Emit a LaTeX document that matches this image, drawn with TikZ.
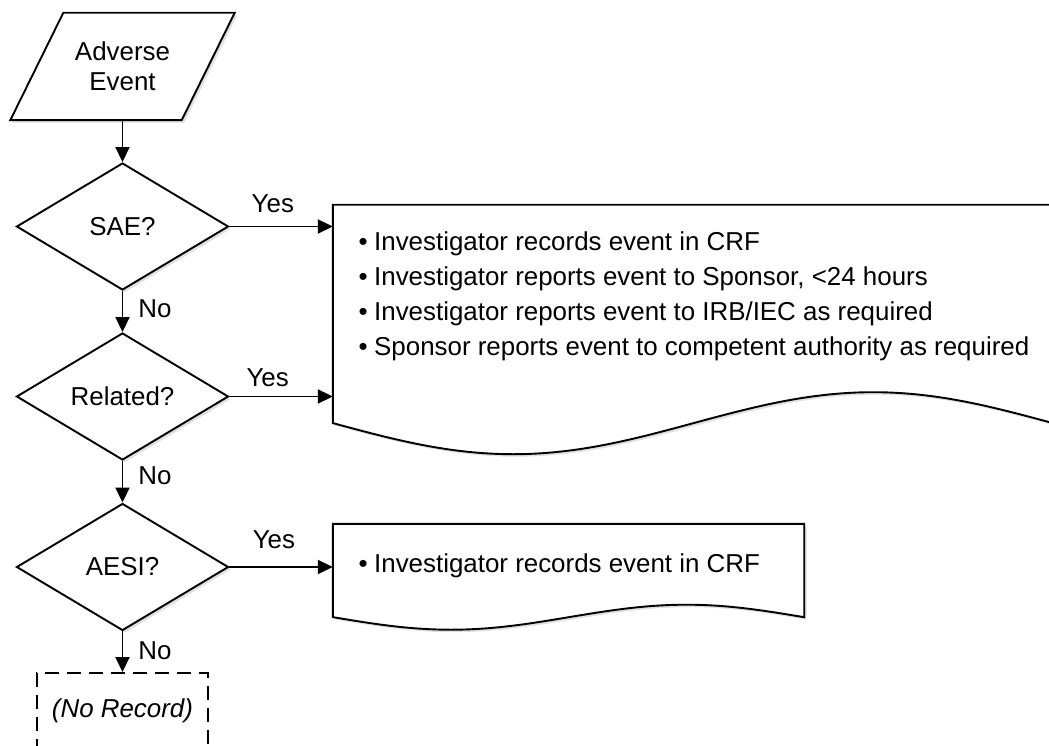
\documentclass[tikz,border=0pt]{standalone}
\usepackage{fontspec}
\setmainfont{Liberation Sans}
\usetikzlibrary{shapes.geometric,arrows.meta,shadows}
\begin{document}
\begin{tikzpicture}[x=1pt,y=-1pt,
  base/.style={font=\fontsize{25.9}{35}\selectfont},
  lw/.style={line width=1.9pt},
  shad/.style={drop shadow={shadow xshift=2.5pt,shadow yshift=-2.5pt,fill=black!12,opacity=1}},
  decision/.style={diamond, draw, lw, fill=white, shad, minimum width=212pt, minimum height=127pt, inner sep=0pt, aspect=1.67, base},
  frame/.style={rectangle, inner sep=0pt, draw=none},
  arr/.style={lw, -{Triangle[length=15pt,width=14pt]}},
  yeslbl/.style={anchor=south, inner sep=0pt, base},
  nolbl/.style={anchor=west, inner sep=0pt, base, xshift=15pt},
  txt/.style={inner sep=0pt, base, align=left}
]
\useasboundingbox (0,0) rectangle (1049,746);
\clip (0,0) rectangle (1049,746);

% Adverse Event (parallelogram)
\node[frame, minimum width=171pt, minimum height=107pt] (ae) at (122.5,66.5) {};
\draw[lw, fill=white, shad] ([xshift=26.5pt]ae.north west) -- ([xshift=26.5pt]ae.north east)
  -- ([xshift=-26.5pt]ae.south east) -- ([xshift=-26.5pt]ae.south west) -- cycle;
\node[inner sep=0pt, align=center, font=\fontsize{25.9}{30}\selectfont] (aetxt) at (ae.center) {Adverse\\Event};

% decisions
\node[decision] (sae) at (122.5,226.5) {SAE?};
\node[decision] (rel) at (122.5,396.5) {Related?};
\node[decision] (aesi) at (122.5,567) {AESI?};

% big document
\node[frame, minimum width=720pt, minimum height=218pt] (doc1) at (693,314) {};
\draw[lw, fill=white, shad] (doc1.south west) -- (doc1.north west) -- (doc1.north east) -- (doc1.south east)
  sin ++(-180,-31) cos ++(-180,31) sin ++(-180,31) cos ++(-180,-31) -- cycle;
\node[txt, anchor=north west] (doc1txt) at (358.5,231.5) {%
\makebox[15.5pt][l]{•}Investigator records event in CRF\\
\makebox[15.5pt][l]{•}Investigator reports event to Sponsor, <24 hours\\
\makebox[15.5pt][l]{•}Investigator reports event to IRB/IEC as required\\
\makebox[15.5pt][l]{•}Sponsor reports event to competent authority as required};

% small document
\node[frame, minimum width=471pt, minimum height=93pt] (doc2) at (568.5,570.5) {};
\draw[lw, fill=white, shad] (doc2.south west) -- (doc2.north west) -- (doc2.north east) -- (doc2.south east)
  sin ++(-117.75,-12.5) cos ++(-117.75,12.5) sin ++(-117.75,12.5) cos ++(-117.75,-12.5) -- cycle;
\node[txt, anchor=base west] (doc2txt) at (358.5,572) {\makebox[15.5pt][l]{•}Investigator records event in CRF};

% no record
\node[rectangle, draw, lw, dash pattern=on 14pt off 8pt, fill=white, minimum width=171pt, minimum height=76pt,
  inner sep=0pt, font=\fontsize{25.9}{30}\selectfont\itshape] (norec) at (122.5,711) {(No Record)};

% connectors
\draw[arr] (ae.south) -- (sae.north);
\draw[arr] (sae.south) -- node[nolbl, pos=0.44] {No} (rel.north);
\draw[arr] (rel.south) -- node[nolbl, pos=0.35] {No} (aesi.north);
\draw[arr] (aesi.south) -- node[nolbl, pos=0.48] {No} (norec.north);
\draw[arr] (sae.east) -- node[yeslbl, pos=0.42, yshift=13pt] {Yes} (sae.east -| doc1.west);
\draw[arr] (rel.east) -- node[yeslbl, pos=0.37, yshift=8.5pt] {Yes} (rel.east -| doc1.west);
\draw[arr] (aesi.east) -- node[yeslbl, pos=0.43, yshift=17pt] {Yes} (aesi.east -| doc2.west);
\end{tikzpicture}
\end{document}
